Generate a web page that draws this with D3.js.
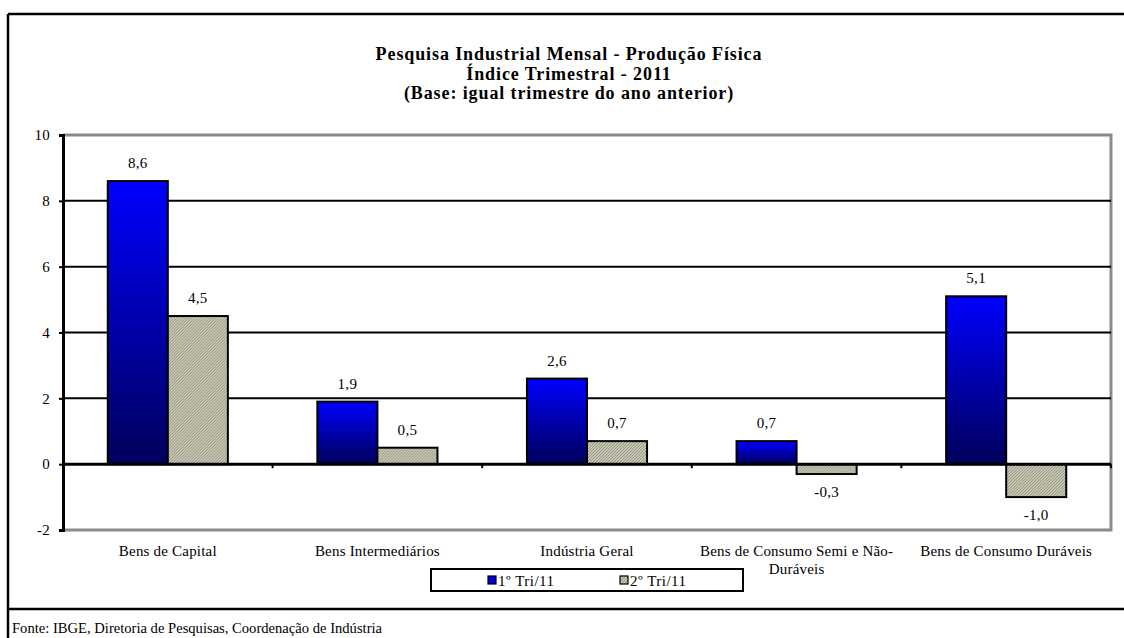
<!DOCTYPE html>
<html>
<head>
<meta charset="utf-8">
<script src="https://cdn.jsdelivr.net/npm/d3@7"></script>
<style>
  body { margin: 0; background: #fff; }
  svg, svg text { font-family: "Liberation Serif", serif !important; }
</style>
</head>
<body>
<div id="chart"></div>
<script>
var categories = ["Bens de Capital", "Bens Intermediários", "Indústria Geral", "Bens de Consumo Semi e Não-Duráveis", "Bens de Consumo Duráveis"]
var series = ["1º Tri/11", "2º Tri/11"]
var tri1 = [8.6, 1.9, 2.6, 0.7, 5.1]
var tri2 = [4.5, 0.5, 0.7, -0.3, -1.0]
var yTicks = [-2, 0, 2, 4, 6, 8, 10]
var titleLines = ["Pesquisa Industrial Mensal - Produção Física", "Índice Trimestral - 2011", "(Base: igual trimestre do ano anterior)"]
var source = "Fonte: IBGE, Diretoria de Pesquisas, Coordenação de Indústria"

var W = 1124, H = 638
var plot = { left: 63, right: 1111, top: 135, bottom: 530 }

const svg = d3.select("#chart").append("svg")
  .attr("width", W).attr("height", H)
  .attr("font-family", "Liberation Serif")

const defs = svg.append("defs")

// blue gradient for the first quarter
const grad = defs.append("linearGradient")
  .attr("id", "blueGrad").attr("x1", 0).attr("y1", 0).attr("x2", 0).attr("y2", 1)
grad.append("stop").attr("offset", "0%").attr("stop-color", "#0000ff")
grad.append("stop").attr("offset", "100%").attr("stop-color", "#00005a")

// hatched fill for the second quarter
const pat = defs.append("pattern")
  .attr("id", "hatch").attr("width", 3).attr("height", 3)
  .attr("patternUnits", "userSpaceOnUse")
pat.append("rect").attr("width", 3).attr("height", 3).attr("fill", "#e4e4c8")
pat.append("path").attr("d", "M0,3 L3,0 M-1,1 L1,-1 M2,4 L4,2")
  .attr("stroke", "#8c8c80").attr("stroke-width", 1.1)

// outer frame
svg.append("line").attr("x1", 8).attr("x2", 8).attr("y1", 14).attr("y2", H)
  .attr("stroke", "#000").attr("stroke-width", 2.5)
svg.append("line").attr("x1", 8).attr("x2", W).attr("y1", 14).attr("y2", 14)
  .attr("stroke", "#000").attr("stroke-width", 2.5)
svg.append("line").attr("x1", 8).attr("x2", W).attr("y1", 609).attr("y2", 609)
  .attr("stroke", "#000").attr("stroke-width", 2.5)

// title
svg.append("g").selectAll("text").data(titleLines).join("text")
  .attr("x", 569).attr("y", (d, i) => 60 + i * 19.5)
  .attr("text-anchor", "middle")
  .attr("font-size", 18).attr("font-weight", "bold")
  .attr("letter-spacing", 0.9)
  .text(d => d)

const x0 = d3.scaleBand().domain(categories)
  .range([plot.left, plot.right]).paddingInner(0.427).paddingOuter(0.2136)
const x1 = d3.scaleBand().domain(series).range([0, x0.bandwidth()])
const y = d3.scaleLinear().domain([-2, 10]).range([plot.bottom, plot.top])

// plot border (grey, on top and right and bottom)
svg.append("path")
  .attr("d", `M${plot.left},${plot.top} H${plot.right} V${plot.bottom} H${plot.left}`)
  .attr("fill", "none").attr("stroke", "#8a8a8a").attr("stroke-width", 3)

// gridlines
svg.append("g").selectAll("line").data(yTicks.filter(t => t > -2 && t < 10 && t !== 0)).join("line")
  .attr("x1", plot.left).attr("x2", plot.right)
  .attr("y1", d => y(d)).attr("y2", d => y(d))
  .attr("stroke", "#000").attr("stroke-width", 2)

// bars
const rows = categories.map((c, i) => ({ cat: c, vals: [tri1[i], tri2[i]] }))
const fills = ["url(#blueGrad)", "url(#hatch)"]

const grp = svg.append("g").selectAll("g").data(rows).join("g")
  .attr("transform", d => `translate(${x0(d.cat)},0)`)

grp.selectAll("rect").data(d => d.vals.map((v, k) => ({ v: v, s: series[k], k: k }))).join("rect")
  .attr("x", d => x1(d.s))
  .attr("width", x1.bandwidth())
  .attr("y", d => Math.min(y(d.v), y(0)))
  .attr("height", d => Math.abs(y(d.v) - y(0)))
  .attr("fill", d => fills[d.k])
  .attr("stroke", "#000").attr("stroke-width", 2)

grp.selectAll("text").data(d => d.vals.map((v, k) => ({ v: v, s: series[k], k: k }))).join("text")
  .attr("x", d => x1(d.s) + x1.bandwidth() / 2)
  .attr("y", d => d.v >= 0 ? y(d.v) - 13 : y(d.v) + 23)
  .attr("text-anchor", "middle")
  .attr("font-size", 15).attr("letter-spacing", 0.3)
  .text(d => d3.format(".1f")(d.v).replace(".", ",").replace("−", "-"))

// zero line
svg.append("line").attr("x1", plot.left).attr("x2", plot.right)
  .attr("y1", y(0)).attr("y2", y(0))
  .attr("stroke", "#000").attr("stroke-width", 3)

// category ticks on zero line
svg.append("g").selectAll("line").data(d3.range(categories.length + 1)).join("line")
  .attr("x1", i => plot.left + i * x0.step()).attr("x2", i => plot.left + i * x0.step())
  .attr("y1", y(0)).attr("y2", y(0) + 4)
  .attr("stroke", "#000").attr("stroke-width", 2)

// y axis
const yAxis = svg.append("g")
  .attr("transform", `translate(${plot.left},0)`)
  .call(d3.axisLeft(y).tickValues(yTicks).tickSize(4).tickPadding(9))
yAxis.attr("font-family", "Liberation Serif")
yAxis.select(".domain").attr("stroke-width", 3)
yAxis.selectAll(".tick line").attr("stroke-width", 2)
yAxis.selectAll(".tick text").attr("font-size", 15).attr("letter-spacing", 0.3)
  .text(d => d3.format("d")(d).replace("−", "-"))

// category labels with wrapping
function wrap(text, width) {
  text.each(function () {
    const t = d3.select(this)
    const words = t.text().split(/(?<=-)|\s+/)
    const xx = t.attr("x"), yy = +t.attr("y")
    t.text(null)
    let line = [], lineNo = 0
    let tspan = t.append("tspan").attr("x", xx).attr("y", yy)
    words.forEach(w => {
      line.push(w)
      tspan.text(line.join(" ").replace(/- /g, "-"))
      if (tspan.node().getComputedTextLength() > width && line.length > 1) {
        line.pop()
        tspan.text(line.join(" ").replace(/- /g, "-"))
        line = [w]
        lineNo++
        tspan = t.append("tspan").attr("x", xx).attr("y", yy + lineNo * 18).text(w)
      }
    })
  })
}

svg.append("g").selectAll("text").data(categories).join("text")
  .attr("x", d => x0(d) + x0.bandwidth() / 2)
  .attr("y", 556)
  .attr("text-anchor", "middle")
  .attr("font-size", 15).attr("letter-spacing", 0.2)
  .text(d => d)
  .call(wrap, 200)

// legend
const lg = svg.append("g")
lg.append("rect").attr("x", 431).attr("y", 569).attr("width", 312).attr("height", 22)
  .attr("fill", "#fff").attr("stroke", "#000").attr("stroke-width", 2)
const legendItems = lg.selectAll("g").data(series).join("g")
  .attr("transform", (d, i) => `translate(${488 + i * 132},576)`)
legendItems.append("rect").attr("width", 8).attr("height", 8)
  .attr("fill", (d, i) => i === 0 ? "#0000e0" : "url(#hatch)")
  .attr("stroke", "#000").attr("stroke-width", 1.2)
legendItems.append("text").attr("x", 10).attr("y", 10)
  .attr("font-size", 15).attr("letter-spacing", 0.5).text(d => d)

// source
svg.append("text").attr("x", 12).attr("y", 633)
  .attr("font-size", 14.6).text(source)
</script>
</body>
</html>
